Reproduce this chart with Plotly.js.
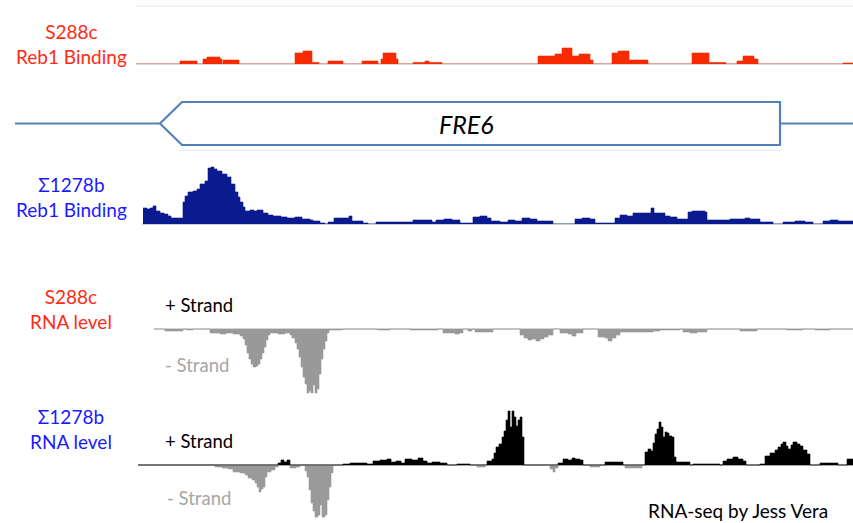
<!DOCTYPE html>
<html>
<head>
<meta charset="utf-8">
<script src="https://cdn.plot.ly/plotly-3.0.1.min.js"></script>
<style>html,body{margin:0;padding:0;background:#fff;}#chart{width:853px;height:523px;}</style>
</head>
<body>
<div id="chart"></div>
<script>
// ---- window coordinates (genome window, arbitrary position units) ----
const windowStart = 0;
const windowEnd = 853;

// ---- gene model (FRE6, minus strand) ----
const geneName = "FRE6";
const geneStart = 160;   // 3' end (arrow tip)
const geneEnd = 780;
const geneArrowLen = 22;
const geneLineStart = 15;

// ---- S288c Reb1 binding (step positions / signal) ----
const s288cReb1Pos = [136,180,197,203,207,220,222,223,239,295,303,312,319,328,343,362,378,381,383,396,398,413,425,429,442,538,555,562,572,579,590,593,612,618,629,648,692,709,726,737,743,754,758,843,853];
const s288cReb1Val = [0,3,0,5,7,5,0,4,0,11,13,1.5,0,3,0,3,0,5,11,5,0,1.5,3,1.5,0,8,10,16,8,10,4,0,11,13,4,0,11,1.5,0,3,8,5,0,1,1];

// ---- Σ1278b Reb1 binding ----
const s1278Reb1Pos = [143,147,150,153,156,160,164,168,171,183,185,188,193,197,200,205,208,211,214,217,222,227,231,235,238,240,243,245,250,254,257,263,268,273,281,287,295,302,310,313,320,325,328,334,346,349,352,363,368,376,413,432,436,444,452,460,473,480,487,491,500,508,515,522,530,537,553,575,582,590,595,615,620,627,633,648,651,654,665,670,677,688,692,705,707,730,745,750,760,773,783,795,805,813,823,830,838,853];
const s1278Reb1Val = [16,15,16,18,13,11,10,8,6,22,28,32,33,35,40,43,56,57,55,53,50,47,40,32,27,22,17,13,14,13,14,11,9,8,7,6,7,5,4,3,1,0,2,6,6,8,3,1,0,2,4,2,4,5,4,1,7,8,6,3,2,4,3,6,5,3,0,5,6,5,1,6,9,8,11,11,16,11,8,7,5,12,13,12,4,5,6,5,2,0,2,3,2,0,3,4,3,3];

// ---- S288c RNA level (minus strand only, negative) ----
const s288cRnaMinusPos = [154,165,183,187,193,210,220,226,233,240,243,245,247,249,251,253,256,258,260,262,264,266,268,270,278,285,290,292,295,297,299,301,303,305,307,309,311,313,315,317,319,321,323,325,327,329,333,343,377,390,410,438,443,450,455,459,463,468,472,475,493,520,524,528,532,536,540,544,548,553,560,568,572,576,583,598,605,608,612,616,620,640,653,660,680,683,690,697,707,740,757,787,803,815,830,853];
const s288cRnaMinusVal = [0,-2,0,-1,0,-4,-5,-4,-5,-7,-10,-16,-24,-30,-35,-38,-37,-35,-30,-24,-18,-11,-6,-4,-5,-4,-6,-9,-14,-20,-28,-38,-48,-55,-64,-62,-64,-56,-64,-60,-45,-30,-20,-12,-4,-1,-1,0,-1,0,-1,0,-4,-4,-5,-4,0,-2,0,-3,0,-6,-9,-11,-10,-12,-10,-8,-6,0,-4,-5,-7,-4,0,-8,-9,-12,-9,-6,-3,-3,-2,-1,0,-3,-4,-3,0,-2,0,-1,0,-1,0,0];

// ---- Σ1278b RNA level ----
const s1278RnaMinusPos = [138,215,222,228,233,240,245,248,252,255,257,259,261,263,265,267,271,275,278,290,296,300,305,307,309,311,313,315,318,320,322,325,327,329,331,333,477,485,550,553,555,558,590,600,625,642,853];
const s1278RnaMinusVal = [0,-2,-3,-4,-7,-8,-10,-13,-15,-18,-22,-27,-24,-22,-12,-7,-5,-2,0,-3,-2,0,-6,-12,-25,-38,-46,-52,-50,-40,-52,-50,-35,-22,-8,0,-2,0,-4,-7,-3,0,-2,0,-3,0,0];
const s1278RnaPlusPos = [138,278,281,284,287,290,343,350,367,373,380,387,391,396,401,405,412,418,423,427,432,440,447,457,470,487,492,494,496,499,502,504,506,508,510,512,514,516,518,520,522,524,558,563,568,572,575,580,583,605,623,645,648,651,653,655,657,659,661,663,665,667,669,672,674,676,690,693,720,723,727,733,738,743,746,760,765,770,775,778,781,783,786,788,791,793,797,800,803,807,810,820,838,847,853];
const s1278RnaPlusVal = [0,2,5,3,5,0,1,2,1,4,5,6,3,4,2,6,5,7,4,2,3,2,0,1,0,4,6,12,18,21,28,34,45,54,38,54,48,39,45,48,28,0,2,6,5,7,6,5,0,3,0,13,16,14,22,31,36,43,38,28,33,32,29,28,8,3,0,1,0,4,6,8,6,4,0,1,9,12,15,18,21,23,19,16,20,23,21,19,15,11,0,2,0,6,6];

// ---- track labels ----
const trackLabels = ["S288c<br>Reb1 Binding", "Σ1278b<br>Reb1 Binding", "S288c<br>RNA level", "Σ1278b<br>RNA level"];
const labelColors = ["#ff2a14", "#1a1aff", "#ff2a14", "#1a1aff"];
const strandLabels = ["+ Strand", "- Strand"];
const creditText = "RNA-seq by Jess Vera";

// ---- layout helpers ----
const W = 853, H = 523;
const FONT = "Lato, 'Open Sans', sans-serif";
function ydom(topPx, botPx) { return [1 - botPx / H, 1 - topPx / H]; }
function xdom(startPx) { return [startPx / W, 1]; }
function px(v) { return v / W; }
function py(v) { return 1 - v / H; }

function stepTrace(xs, ys, color, xa, ya) {
  return {
    type: "scatter", mode: "lines", x: xs, y: ys, xaxis: xa, yaxis: ya,
    line: { shape: "hv", color: color, width: 0.6 },
    fill: "tozeroy", fillcolor: color, hoverinfo: "skip", showlegend: false
  };
}

const geneX = [geneLineStart, geneStart, geneStart + geneArrowLen, geneEnd, geneEnd, geneStart + geneArrowLen, geneStart, null, geneEnd, windowEnd];
const geneY = [0, 0, 1, 1, -1, -1, 0, null, 0, 0];

const traces = [
  { type: "scatter", mode: "lines", x: geneX, y: geneY, xaxis: "x", yaxis: "y",
    line: { color: "#4f81bd", width: 2.2 }, hoverinfo: "skip", showlegend: false, cliponaxis: false },
  stepTrace(s288cReb1Pos, s288cReb1Val, "#f72a00", "x2", "y2"),
  stepTrace(s1278Reb1Pos, s1278Reb1Val, "#0a1a8f", "x3", "y3"),
  stepTrace(s288cRnaMinusPos, s288cRnaMinusVal, "#999999", "x4", "y4"),
  stepTrace(s1278RnaMinusPos, s1278RnaMinusVal, "#9a9a9a", "x5", "y5"),
  stepTrace(s1278RnaPlusPos, s1278RnaPlusVal, "#000000", "x5", "y5")
];

function hiddenX(startPx) {
  return { domain: xdom(startPx), range: [startPx, windowEnd], visible: false, fixedrange: true };
}
function baseY(dom, range, zc, zw) {
  return { domain: dom, range: range, showgrid: false, showticklabels: false, ticks: "",
           showline: false, zeroline: true, zerolinecolor: zc, zerolinewidth: zw, fixedrange: true };
}

const annotations = [];
const labelYs = [44, 197, 308.5, 428.5];
for (let i = 0; i < trackLabels.length; i++) {
  annotations.push({ xref: "paper", yref: "paper", x: px(71), y: py(labelYs[i]), xanchor: "center", yanchor: "middle",
    text: trackLabels[i], showarrow: false, align: "center", font: { family: FONT, size: 19, color: labelColors[i] } });
}
const strandPos = [[163, 305, 0], [163, 365, 1], [163, 441, 0], [165, 498, 1]];
for (const s of strandPos) {
  annotations.push({ xref: "paper", yref: "paper", x: px(s[0]), y: py(s[1]), xanchor: "left", yanchor: "middle",
    text: strandLabels[s[2]], showarrow: false, font: { family: FONT, size: 18.5, color: s[2] === 0 ? "#000000" : "#a6a6a6" } });
}
annotations.push({ xref: "x", yref: "y", x: (geneStart + geneEnd) / 2 - 4, y: 0, xanchor: "center", yanchor: "middle",
  text: "<i>" + geneName + "</i>", showarrow: false, font: { family: FONT, size: 25, color: "#000000" } });
annotations.push({ xref: "paper", yref: "paper", x: px(738), y: py(510), xanchor: "center", yanchor: "middle",
  text: creditText, showarrow: false, font: { family: FONT, size: 19, color: "#000000" } });

const layout = {
  width: W, height: H, margin: { l: 0, r: 0, t: 0, b: 0 }, paper_bgcolor: "#ffffff", plot_bgcolor: "rgba(0,0,0,0)",
  showlegend: false,
  xaxis: { domain: [0, 1], range: [windowStart, windowEnd], visible: false, fixedrange: true },
  yaxis: { domain: ydom(97.7, 149.3), range: [-1.2, 1.2], visible: false, fixedrange: true },
  xaxis2: hiddenX(136), yaxis2: Object.assign(baseY(ydom(6, 64), [0, 58], "#d9d9d9", 2), { anchor: "x2" }),
  xaxis3: hiddenX(142), yaxis3: Object.assign(baseY(ydom(164, 224), [0, 60], "#d0d0d0", 1.5), { anchor: "x3" }),
  xaxis4: hiddenX(154), yaxis4: Object.assign(baseY(ydom(299, 399), [-70, 30], "#d4d4d4", 2), { anchor: "x4" }),
  xaxis5: hiddenX(138), yaxis5: Object.assign(baseY(ydom(405, 523), [-58, 60], "#b0b0b0", 1.2), { anchor: "x5" }),
  shapes: [
    { type: "line", xref: "paper", yref: "paper", x0: px(136), x1: 1, y0: py(6), y1: py(6), line: { color: "#f0f0f0", width: 1.5 } },
    { type: "line", xref: "paper", yref: "paper", x0: px(180), x1: px(782), y0: py(150), y1: py(150), line: { color: "#f3f3f3", width: 2 } }
  ],
  annotations: annotations
};
layout.xaxis2.anchor = "y2"; layout.xaxis3.anchor = "y3"; layout.xaxis4.anchor = "y4"; layout.xaxis5.anchor = "y5";

Plotly.newPlot("chart", traces, layout, { staticPlot: true, displayModeBar: false });
</script>
</body>
</html>
